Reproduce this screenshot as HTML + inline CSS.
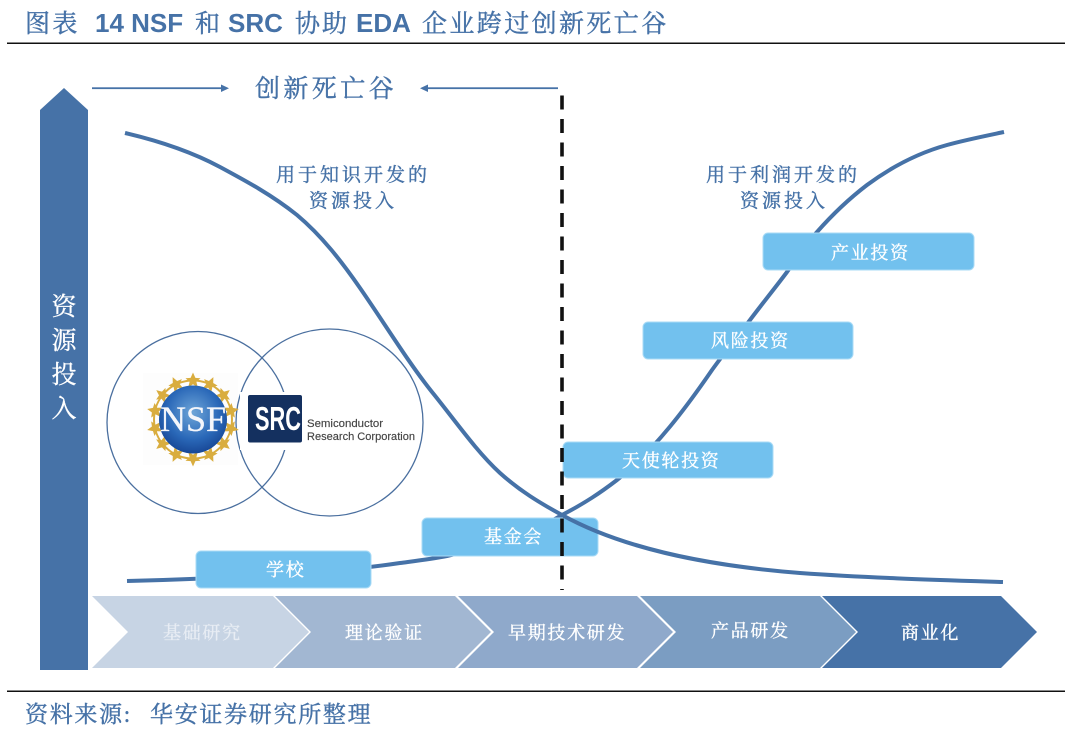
<!DOCTYPE html>
<html><head><meta charset="utf-8">
<style>
html,body{margin:0;padding:0;background:#fff;width:1080px;height:735px;overflow:hidden}
svg{display:block}
text{font-family:"Liberation Serif","Noto Serif CJK SC",serif}
.c{fill:#4672a7;stroke:#4672a7;stroke-width:.4px}
.w{fill:#fff;stroke:#fff;stroke-width:.35px}
.b{font-family:"Liberation Sans",sans-serif;font-weight:bold;font-size:26px;fill:#4672a7}
.s{font-family:"Liberation Sans",sans-serif;fill:#444;stroke:#444;stroke-width:.15px}
</style></head><body>
<svg width="1080" height="735" viewBox="0 0 1080 735" xmlns="http://www.w3.org/2000/svg">
<defs>
<radialGradient id="g" cx="50%" cy="40%" r="65%"><stop offset="0" stop-color="#6ea5d8"/><stop offset=".6" stop-color="#2a68b8"/><stop offset="1" stop-color="#14408e"/></radialGradient>
<polygon id="st" points="0,-8 2.400,-2.600 7.500,-2.200 3.400,1.400 4.800,7 0,3.800 -4.800,7 -3.400,1.400 -7.500,-2.200 -2.400,-2.600" fill="#d9ad3f"/>
</defs>

<!-- header -->
<text x="25" y="32" font-size="25" letter-spacing="2.400" class="c">图表</text>
<text x="95" y="32" class="b">14 NSF</text>
<text x="195" y="32" font-size="25" class="c">和</text>
<text x="228" y="32" class="b">SRC</text>
<text x="295" y="32" font-size="25" letter-spacing="2" class="c">协助</text>
<text x="356" y="32" class="b">EDA</text>
<text x="422" y="32" font-size="25" letter-spacing="2.400" class="c">企业跨过创新死亡谷</text>
<rect x="7" y="42.500" width="1058" height="1.500" fill="#111"/>

<!-- vertical arrow -->
<polygon points="40,670 40,110 64,88 88,110 88,670" fill="#4672a7"/>
<g font-size="25" class="w" text-anchor="middle">
<text x="64" y="315">资</text><text x="64" y="349">源</text><text x="64" y="383">投</text><text x="64" y="417">入</text>
</g>

<!-- top arrows -->
<rect x="92" y="87.300" width="130" height="1.800" fill="#4672a7"/>
<polygon points="221,84.500 229,88.200 221,92" fill="#4672a7"/>
<rect x="428" y="87.300" width="130" height="1.800" fill="#4672a7"/>
<polygon points="428,84.500 420,88.200 428,92" fill="#4672a7"/>
<text x="255" y="97" font-size="25" letter-spacing="3.400" class="c">创新死亡谷</text>

<!-- labels -->
<g font-size="19" letter-spacing="3" class="c">
<text x="276" y="181">用于知识开发的</text>
<text x="309" y="207">资源投入</text>
<text x="706" y="181">用于利润开发的</text>
<text x="740" y="207">资源投入</text>
</g>

<!-- rising curve -->
<path d="M127,581 C200,579 320,575 400,563 C415,561 432,559 447,556 C490,546 530,534 562,515 C585,503 600,493 617,480 C655,450 688,405 712,370 C725,352 737,337 750,320 C762,304 775,288 787,272 C797,258 806,244 817,232 C832,215 850,198 867,185 C890,168 918,153 947,145 C965,140 985,136 1004,132" fill="none" stroke="#4672a7" stroke-width="4"/>

<!-- NSF backing -->
<rect x="143" y="373" width="95" height="92" fill="#fdfdfd"/>

<!-- circles -->
<circle cx="198" cy="422.500" r="91" fill="none" stroke="#4a6f9f" stroke-width="1.300"/>
<circle cx="329.500" cy="422.500" r="93.500" fill="none" stroke="#4a6f9f" stroke-width="1.300"/>

<!-- NSF logo -->
<g>
<circle cx="193" cy="419.500" r="39" fill="none" stroke="#d9ad3f" stroke-width="2"/>
<g transform="translate(193,419.500)">
<use href="#st" transform="rotate(0) translate(0,-39)"/>
<use href="#st" transform="rotate(25.700) translate(0,-39)"/>
<use href="#st" transform="rotate(51.400) translate(0,-39)"/>
<use href="#st" transform="rotate(77.100) translate(0,-39)"/>
<use href="#st" transform="rotate(102.900) translate(0,-39)"/>
<use href="#st" transform="rotate(128.600) translate(0,-39)"/>
<use href="#st" transform="rotate(154.300) translate(0,-39)"/>
<use href="#st" transform="rotate(180) translate(0,-39)"/>
<use href="#st" transform="rotate(205.700) translate(0,-39)"/>
<use href="#st" transform="rotate(231.400) translate(0,-39)"/>
<use href="#st" transform="rotate(257.100) translate(0,-39)"/>
<use href="#st" transform="rotate(282.900) translate(0,-39)"/>
<use href="#st" transform="rotate(308.600) translate(0,-39)"/>
<use href="#st" transform="rotate(334.300) translate(0,-39)"/>
</g>
<circle cx="193" cy="419.500" r="34" fill="url(#g)"/>
<text x="160" y="431" font-size="36" fill="#f4f6fb" stroke="#f4f6fb" stroke-width=".3" textLength="66" lengthAdjust="spacingAndGlyphs">NSF</text>
</g>

<!-- SRC logo -->
<rect x="240" y="392" width="176" height="58" fill="#fff"/>
<rect x="248" y="395" width="54" height="47.500" rx="2" fill="#14305f"/>
<text x="255" y="430" font-size="33" font-weight="bold" fill="#fff" textLength="46" lengthAdjust="spacingAndGlyphs" style="font-family:'Liberation Sans',sans-serif">SRC</text>
<text x="307" y="427" font-size="11" class="s" textLength="76" lengthAdjust="spacingAndGlyphs">Semiconductor</text>
<text x="307" y="440" font-size="11" class="s" textLength="108" lengthAdjust="spacingAndGlyphs">Research Corporation</text>

<!-- boxes -->
<g fill="#72c1ee" stroke="#a9dbf6" stroke-width="1">
<rect x="196" y="551" width="175" height="37" rx="5"/>
<rect x="422" y="518" width="176" height="38" rx="5"/>
<rect x="563" y="442" width="210" height="36" rx="5"/>
<rect x="643" y="322" width="210" height="37" rx="5"/>
<rect x="763" y="233" width="211" height="37" rx="5"/>
</g>
<g font-size="18" class="w" letter-spacing="1.700">
<text x="266" y="576">学校</text>
<text x="484" y="543">基金会</text>
<text x="622" y="467">天使轮投资</text>
<text x="711" y="347">风险投资</text>
<text x="831" y="259">产业投资</text>
</g>

<!-- falling curve -->
<path d="M125,133 C155,140 190,151 220,167 C246,181 272,195 297,215 C322,236 342,262 360,288 C385,324 408,362 432,392 C454,419 476,451 500,473 C520,491 540,503 562,515 C620,547 700,565 800,573 C870,578 940,580 1003,582" fill="none" stroke="#4672a7" stroke-width="4"/>

<!-- dashed line -->
<path d="M562,95.500 L562,590" fill="none" stroke="#111" stroke-width="3.600" stroke-dasharray="14 9.500"/>

<!-- chevrons -->
<polygon points="92,596 273,596 309,632 273,668 92,668 128,632" fill="#c7d4e4"/>
<polygon points="275,596 455,596 491,632 455,668 275,668 311,632" fill="#a2b7d2"/>
<polygon points="458,596 637,596 673,632 637,668 458,668 494,632" fill="#8fa9cb"/>
<polygon points="640,596 820,596 856,632 820,668 640,668 676,632" fill="#7b9dc2"/>
<polygon points="822,596 1001,596 1037,632 1001,668 822,668 858,632" fill="#4672a7"/>
<g font-size="18" letter-spacing="1.700">
<text x="163" y="639" fill="#e8edf4" stroke="#e8edf4" stroke-width=".3">基础研究</text>
<text x="345" y="639" class="w">理论验证</text>
<text x="508" y="639" class="w">早期技术研发</text>
<text x="711" y="637" class="w">产品研发</text>
<text x="901" y="639" class="w">商业化</text>
</g>

<!-- footer -->
<rect x="7" y="690.500" width="1058" height="1.500" fill="#111"/>
<text x="25" y="722" font-size="23" letter-spacing="1.700" class="c">资料来源:</text>
<text x="150" y="722" font-size="23" letter-spacing="1.700" class="c">华安证券研究所整理</text>
</svg>
</body></html>
